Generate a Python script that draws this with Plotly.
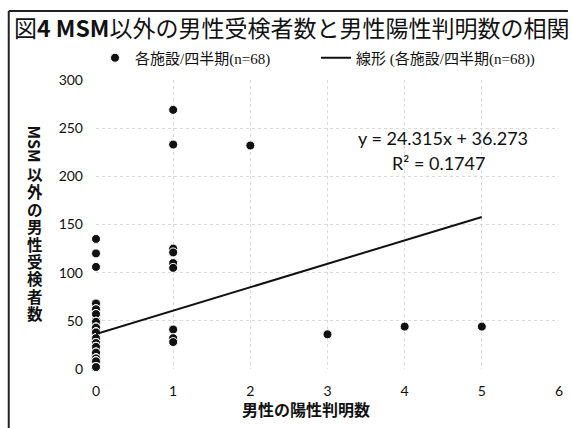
import plotly.graph_objects as go

# ---- data ----
positives = [0, 1, 2, 3, 4, 5]
tested_at_0 = [135, 120, 106,
               68, 68, 68, 62, 62, 62, 57, 57, 57,
               49, 49, 49, 49, 43, 43, 43, 43, 38, 38, 38, 38, 32, 32, 32, 32,
               27, 27, 27, 27, 23, 23, 23, 23, 17, 17, 17, 17, 11, 11, 11, 11,
               8, 8, 8, 8, 8, 2, 2, 2, 2, 2, 2]
tested_at_1 = [269, 233, 125, 121, 110, 105, 41, 32, 28]
tested_at_2 = [232]
tested_at_3 = [36]
tested_at_4 = [44]
tested_at_5 = [44]
groups = [tested_at_0, tested_at_1, tested_at_2, tested_at_3, tested_at_4, tested_at_5]

slope = 24.315
intercept = 36.273
r_squared = 0.1747
fit_x = [0, 5]

x_ticks = [0, 1, 2, 3, 4, 5, 6]
y_ticks = [0, 50, 100, 150, 200, 250, 300]

title_text = "図<b>4 MSM</b>以外の男性受検者数と男性陽性判明数の相関"
legend_points = "各施設/四半期(n=68)"
legend_line = "線形 (各施設/四半期(n=68))"
y_title_latin = "MSM"
y_title_cjk = "以外の男性受検者数"
x_title = "男性の陽性判明数"

xs, ys = [], []
for p, g in zip(positives, groups):
    for v in g:
        xs.append(p)
        ys.append(v)

fit_y = [slope * v + intercept for v in fit_x]

W, H = 572, 428
ML, MR, MT, MB = 96, 9, 80, 59
PW, PH = W - ML - MR, H - MT - MB


def px_x(px):
    return (px - ML) / PW


def px_y(py):
    return (H - MB - py) / PH


CJK = "Noto Sans CJK JP"
NUM = "Lato, " + CJK

fig = go.Figure()
fig.add_trace(go.Scatter(
    x=xs, y=ys, mode="markers", name=legend_points,
    marker=dict(color="#111111", size=9, line=dict(color="white", width=1)),
    cliponaxis=False,
))
fig.add_trace(go.Scatter(
    x=fit_x, y=fit_y, mode="lines", name=legend_line,
    line=dict(color="#111111", width=2),
    cliponaxis=False,
))

annotations = []
# regression equation
annotations.append(dict(
    xref="paper", yref="paper", x=px_x(446), y=px_y(138),
    text=f"y = {slope}x + {intercept}", showarrow=False,
    font=dict(family=NUM, size=18, color="#111111"),
    xanchor="center", yanchor="middle",
))
annotations.append(dict(
    xref="paper", yref="paper", x=px_x(441), y=px_y(163),
    text=f"R² = {r_squared}", showarrow=False,
    font=dict(family=NUM, size=18, color="#111111"),
    xanchor="center", yanchor="middle",
))
# vertical y axis title
annotations.append(dict(
    xref="paper", yref="paper", x=px_x(34), y=px_y(144),
    text=f"<b>{y_title_latin}</b>", showarrow=False, textangle=90,
    font=dict(family=CJK, size=16, color="#111111"),
    xanchor="center", yanchor="middle",
))
for i, ch in enumerate(y_title_cjk):
    annotations.append(dict(
        xref="paper", yref="paper", x=px_x(34), y=px_y(174 + i * 17.4),
        text=f"<b>{ch}</b>", showarrow=False,
        font=dict(family=CJK, size=15.5, color="#111111"),
        xanchor="center", yanchor="middle",
    ))
# x axis title
annotations.append(dict(
    xref="paper", yref="paper", x=px_x(308), y=px_y(409),
    text=f"<b>{x_title}</b>", showarrow=False,
    font=dict(family=CJK, size=16, color="#111111"),
    xanchor="center", yanchor="middle",
))

shapes = [
    dict(type="line", xref="paper", yref="paper",
         x0=px_x(8), x1=px_x(572), y0=px_y(11), y1=px_y(11),
         line=dict(color="#222222", width=2)),
    dict(type="line", xref="paper", yref="paper",
         x0=px_x(8), x1=px_x(8), y0=px_y(11), y1=px_y(428),
         line=dict(color="#222222", width=2)),
]

fig.update_layout(
    width=W, height=H, autosize=False,
    margin=dict(l=ML, r=MR, t=MT, b=MB),
    paper_bgcolor="white", plot_bgcolor="white",
    title=dict(text=title_text, xref="container", yref="container",
               x=14 / W, y=1 - 29 / H, xanchor="left", yanchor="middle",
               font=dict(family=CJK, size=23, color="#111111")),
    showlegend=True,
    legend=dict(orientation="h", xref="paper", yref="paper",
                x=px_x(95), y=px_y(58), xanchor="left", yanchor="middle",
                entrywidth=176, entrywidthmode="pixels",
                font=dict(family="Liberation Serif, " + CJK, size=15, color="#111111"),
                bgcolor="rgba(0,0,0,0)"),
    xaxis=dict(range=[0, 6], tickvals=x_ticks, showline=False, zeroline=False,
               showgrid=True, gridcolor="#d9d9d9", griddash="dot", gridwidth=1,
               ticks="", ticklabelstandoff=12,
               tickfont=dict(family=NUM, size=14, color="#111111")),
    yaxis=dict(range=[0, 300], tickvals=y_ticks, showline=False, zeroline=False,
               showgrid=True, gridcolor="#d9d9d9", griddash="dot", gridwidth=1,
               ticks="", ticklabelstandoff=12,
               tickfont=dict(family=NUM, size=14, color="#111111")),
    annotations=annotations,
    shapes=shapes,
)

fig.write_html("out.html", config={"displayModeBar": False},
               post_script="document.body.style.margin='0px';")
